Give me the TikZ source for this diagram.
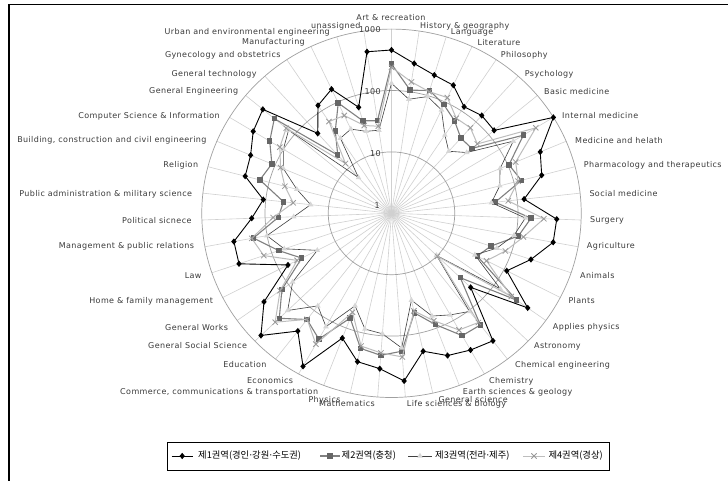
\documentclass[tikz,border=0pt]{standalone}
\usepackage{fontspec}
\usetikzlibrary{shapes.geometric,shapes.misc}
\newfontfamily\labfont[LetterSpace=5]{DejaVu Sans}
\newfontfamily\dotfont{DejaVu Sans}
\newfontfamily\krfont{Noto Sans CJK KR}
\newcommand\krdot{{\dotfont ·}}
\definecolor{spk}{HTML}{D0D0D0}
\definecolor{rng}{HTML}{A0A0A0}
\definecolor{txt}{HTML}{3A3A3A}
\definecolor{colB}{HTML}{808080}
\definecolor{colBm}{HTML}{666666}
\definecolor{colC}{HTML}{404040}
\definecolor{colCm}{HTML}{D6D6D6}
\definecolor{colD}{HTML}{BDBDBD}
\definecolor{colDm}{HTML}{999999}
\tikzset{
  lab/.style={font={\labfont\fontsize{8}{9}\selectfont}, text=txt, inner sep=0pt},
  labR/.style={lab, anchor=west},
  labL/.style={lab, anchor=east},
  krlab/.style={font={\krfont\fontsize{9.3}{10}\selectfont}, text=black, inner sep=0pt, anchor=west},
  spoke/.style={draw=spk, line width=0.6pt},
  ringline/.style={draw=rng, line width=0.7pt},
  lineA/.style={draw=black, line width=0.9pt, line join=round},
  lineB/.style={draw=colB, line width=1.1pt, line join=round},
  lineC/.style={draw=colC, line width=0.6pt, line join=round},
  lineD/.style={draw=colD, line width=1pt, line join=round},
  mkA/.style={diamond, fill=black, inner sep=0pt, minimum width=5.5pt, minimum height=6.5pt},
  mkB/.style={rectangle, fill=colBm, inner sep=0pt, minimum size=5.5pt},
  mkC/.style={regular polygon, regular polygon sides=3, fill=colCm, inner sep=0pt, minimum size=6.5pt},
  mkD/.style={cross out, draw=colDm, line width=0.8pt, inner sep=0pt, minimum size=4.5pt},
}
\def\dataA{163.3,151.4,144.3,141.4,127.7,131.3,129.6,184.1,156.9,150.7,129.5,160.5,159.6,143,125.8,162.6,106.7,161.1,156.8,152.3,141.3,168.1,155.8,152,133.6,175.5,148.8,176,152.2,113,156.4,155.6,135.8,125.2,146.8,148.6,157.3,162.5,107.3,129.3,137.1,110.7,163.3}
\def\dataB{149.3,124.5,128.2,119.9,110.9,100.9,101.4,150,123.9,130.3,101.3,135.5,125.2,101.8,93.6,149,92.8,141.1,140.3,119.1,102,138.3,142.4,138.4,112.2,144.2,134.2,151.3,130.8,98,115.6,136.3,110,105.5,132.1,126.2,138.5,148,78.2,98.9,121.8,96.6,93.6}
\def\dataC{130,115.3,121.9,114.2,93.9,83.3,95,138.5,114.5,108.6,97.6,130,121,108,91,130,60.7,124,116.5,110,89,135,120.8,118.6,99,130,117,140,118,81,110,123,95,79,95,114,123,130,48,90,93,85.6,84}
\def\dataD{146,132.8,127,127.8,114,114.8,108.4,164.1,131,127,114,148,130.2,116.8,103.7,143,62,138,133.8,115,100,144,140,136,106,150,134,156.9,133,103,131,138,115,96,107,117,127,133,67,110,108,91.7,88}
\begin{document}
\begin{tikzpicture}[x=1pt,y=-1pt]
\useasboundingbox (0,0) rectangle (728,481);
\fill[white] (0,0) rectangle (728,481);
\coordinate (frBL) at (9,481);
\coordinate (frTL) at (9,4.3);
\coordinate (frTR) at (728,4.3);
\draw[line width=1.2pt] (frBL) -- (frTL) -- (frTR);
\begin{scope}[shift={(391.5,213.3)},yscale=-1,xscale=1.03]
  \coordinate (ctr) at (0,0);
  \foreach \i in {0,...,42} {
    \coordinate (sp\i) at ({90-\i*360/43}:184.2);
    \draw[spoke] (ctr) -- (sp\i);
  }
  \foreach \k in {1,2,3} \draw[ringline] (ctr) circle ({61.4*\k});
  \foreach \r [count=\i from 0] in \dataA {\coordinate (a\i) at ({90-\i*360/43}:\r);}
  \foreach \r [count=\i from 0] in \dataB {\coordinate (b\i) at ({90-\i*360/43}:\r);}
  \foreach \r [count=\i from 0] in \dataC {\coordinate (c\i) at ({90-\i*360/43}:\r);}
  \foreach \r [count=\i from 0] in \dataD {\coordinate (d\i) at ({90-\i*360/43}:\r);}
  \draw[lineA] (a0) \foreach \i in {1,...,42} {-- (a\i)} -- cycle;
  \foreach \i in {0,...,42} \node[mkA] (ma\i) at (a\i) {};
  \draw[lineB] (b0) \foreach \i in {1,...,42} {-- (b\i)} -- cycle;
  \foreach \i in {0,...,42} \node[mkB] (mb\i) at (b\i) {};
  \draw[lineC] (c0) \foreach \i in {1,...,42} {-- (c\i)} -- cycle;
  \foreach \i in {0,...,42} \node[mkC] (mc\i) at (c\i) {};
  \draw[lineD] (d0) \foreach \i in {1,...,42} {-- (d\i)} -- cycle;
  \foreach \i in {0,...,42} \node[mkD] (md\i) at (d\i) {};
\end{scope}
% axis labels
\node[labL] (t1000) at (381,30) {1000};
\node[labL] (t100) at (381,91.7) {100};
\node[labL] (t10) at (381,153.3) {10};
\node[labL] (t1) at (380,205.7) {1};
% category labels
\node[lab] (l0) at (391,17.3) {Art \& recreation};
\node[labR] (l1) at (420,26) {History \& geography};
\node[labR] (l2) at (450.7,32.3) {Language};
\node[labR] (l3) at (477.3,42.7) {Literature};
\node[labR] (l4) at (500.7,55) {Philosophy};
\node[labR] (l5) at (524.7,74) {Psychology};
\node[labR] (l6) at (544,91.7) {Basic medicine};
\node[labR] (l7) at (562,116) {Internal medicine};
\node[labR] (l8) at (575,140.7) {Medicine and helath};
\node[labR] (l9) at (583.7,165) {Pharmacology and therapeutics};
\node[labR] (l10) at (589.3,193.3) {Social medicine};
\node[labR] (l11) at (590,220) {Surgery};
\node[labR] (l12) at (586.7,246.7) {Agriculture};
\node[labR] (l13) at (580,275.7) {Animals};
\node[labR] (l14) at (568.3,301) {Plants};
\node[labR] (l15) at (552.7,327.3) {Applies physics};
\node[labR] (l16) at (534,346) {Astronomy};
\node[labR] (l17) at (515,365) {Chemical engineering};
\node[labR] (l18) at (489,381) {Chemistry};
\node[labR] (l19) at (462.7,392.3) {Earth sciences \& geology};
\node[labR] (l20) at (438.3,400) {General science};
\node[labR] (l21) at (406.7,404.3) {Life sciences \& biology};
\node[labL] (l22) at (375,403.3) {Mathematics};
\node[labR] (l23) at (308.3,400) {Physics};
\node[labL] (l24) at (318.3,392.3) {Commerce, communications \& transportation};
\node[labL] (l25) at (293.3,380.7) {Economics};
\node[labL] (l26) at (266.7,365) {Education};
\node[labL] (l27) at (247.3,346) {General Social Science};
\node[labL] (l28) at (228.3,327.3) {General Works};
\node[labL] (l29) at (213.3,301) {Home \& family management};
\node[labL] (l30) at (201.7,276) {Law};
\node[labL] (l31) at (194.3,246.7) {Management \& public relations};
\node[labL] (l32) at (191.7,220.7) {Political sicnece};
\node[labL] (l33) at (192.3,194) {Public administration \& military science};
\node[labL] (l34) at (198.3,165) {Religion};
\node[labL] (l35) at (206.7,140.7) {Building, construction and civil engineering};
\node[labL] (l36) at (220,116) {Computer Science \& Information};
\node[labL] (l37) at (238.3,91.7) {General Engineering};
\node[labL] (l38) at (256.7,74) {General technology};
\node[labL] (l39) at (280.7,55) {Gynecology and obstetrics};
\node[labL] (l40) at (305,42.7) {Manufacturing};
\node[labL] (l41) at (330,32.3) {Urban and environmental engineering};
\node[labL] (l42) at (360.7,26) {unassigned};
% legend
\node[draw=black, line width=0.8pt, minimum width=442pt, minimum height=28pt, inner sep=0pt, anchor=north west] (legbox) at (167,442) {};
\coordinate (g1a) at (171.7,456); \coordinate (g1b) at (192.7,456);
\draw[lineA] (g1a) -- (g1b);
\node[mkA] (gm1) at (182.2,456) {};
\node[krlab] (gt1) at (198,456) {제1권역(경인\krdot 강원\krdot 수도권)};
\coordinate (g2a) at (320,456); \coordinate (g2b) at (340,456);
\draw[lineB] (g2a) -- (g2b);
\node[mkB] (gm2) at (330,456) {};
\node[krlab] (gt2) at (341.5,456) {제2권역(충청)};
\coordinate (g3a) at (408.3,456); \coordinate (g3b) at (431.7,456);
\draw[lineC] (g3a) -- (g3b);
\node[mkC] (gm3) at (420,456) {};
\node[krlab] (gt3) at (435,456) {제3권역(전라\krdot 제주)};
\coordinate (g4a) at (523.3,456); \coordinate (g4b) at (545,456);
\draw[lineD] (g4a) -- (g4b);
\node[mkD] (gm4) at (534,456) {};
\node[krlab] (gt4) at (548.3,456) {제4권역(경상)};
\end{tikzpicture}
\end{document}
